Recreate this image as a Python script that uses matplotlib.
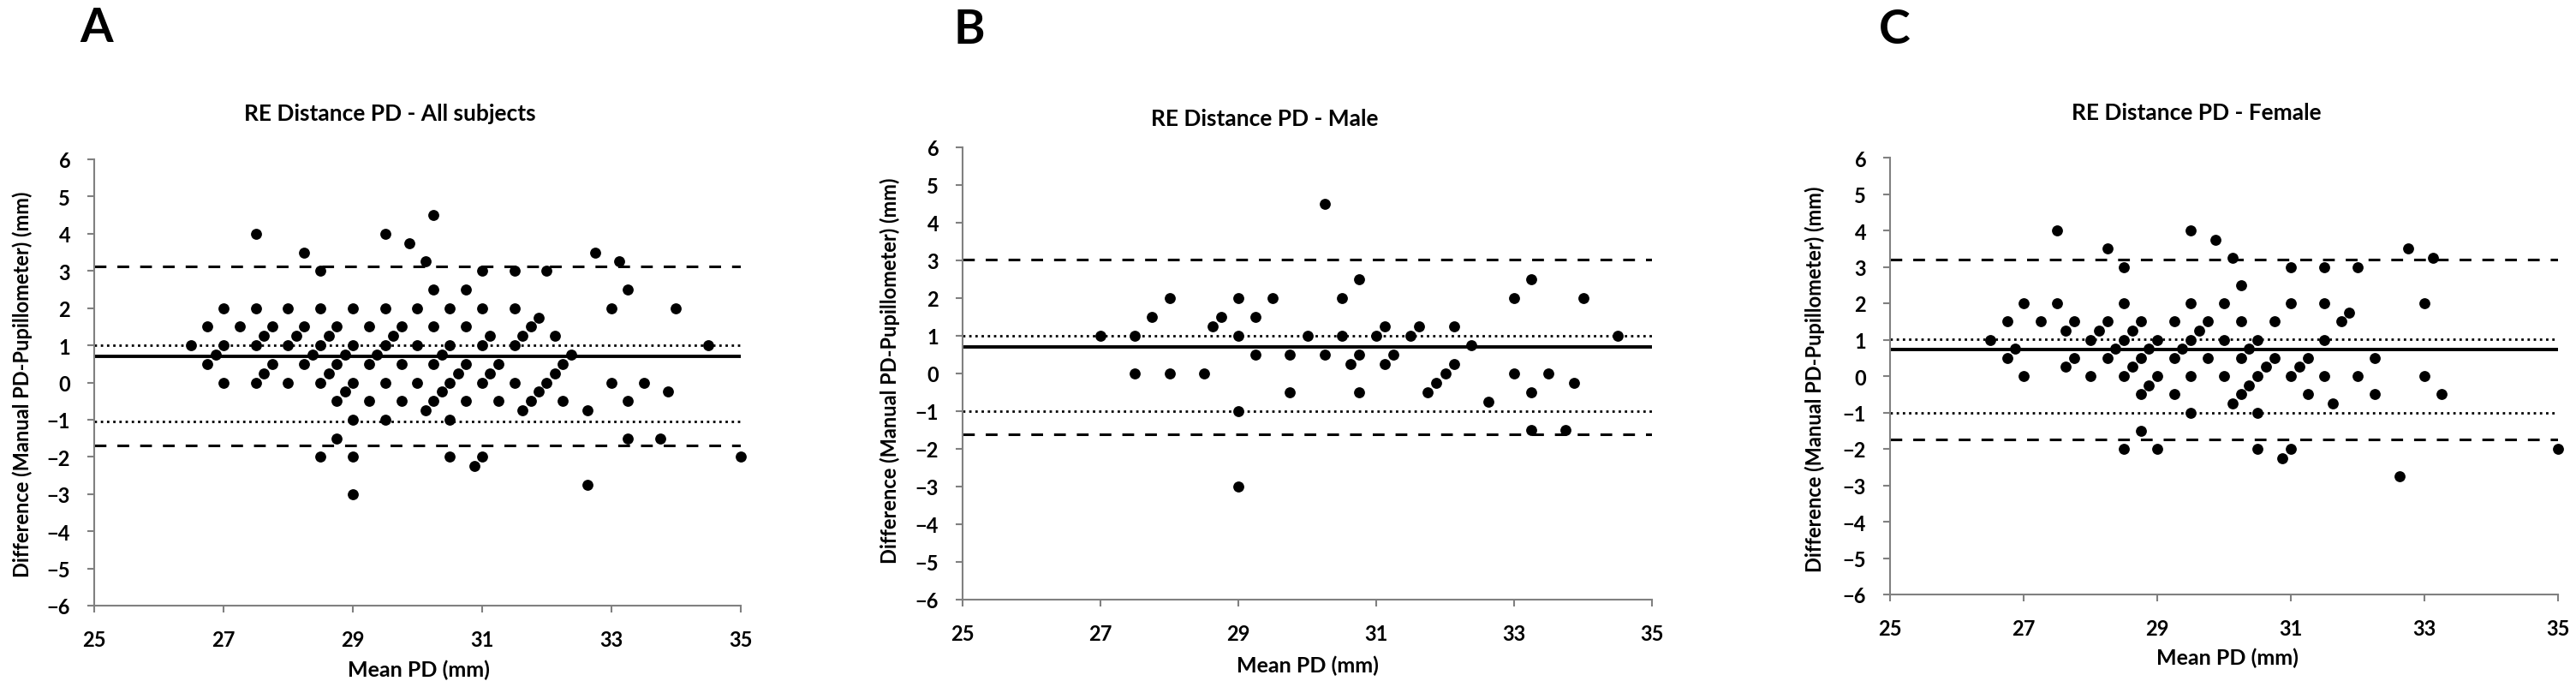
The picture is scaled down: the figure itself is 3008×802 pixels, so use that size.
import numpy as np
import matplotlib
matplotlib.use("Agg")
import matplotlib.pyplot as plt

plt.rcParams['font.family'] = ['Lato', 'DejaVu Sans']
plt.rcParams['font.weight'] = 'bold'

# panel A - all subjects
a_mean = [26.5, 26.75, 26.75, 26.875, 27, 27, 27, 27.25, 27.5, 27.5, 27.5, 27.5,
          27.625, 27.625, 27.75, 27.75, 28, 28, 28, 28.125, 28.25, 28.25, 28.25,
          28.375, 28.5, 28.5, 28.5, 28.5, 28.5, 28.625, 28.625, 28.75, 28.75, 28.75,
          28.75, 28.875, 28.875, 29, 29, 29, 29, 29, 29, 29.25, 29.25, 29.25, 29.375,
          29.5, 29.5, 29.5, 29.5, 29.5, 29.625, 29.75, 29.75, 29.75, 29.875, 30, 30,
          30, 30.125, 30.125, 30.25, 30.25, 30.25, 30.25, 30.25, 30.375, 30.375,
          30.5, 30.5, 30.5, 30.5, 30.5, 30.625, 30.75, 30.75, 30.75, 30.75, 30.875,
          31, 31, 31, 31, 31, 31.125, 31.125, 31.25, 31.25, 31.5, 31.5, 31.5, 31.5,
          31.625, 31.625, 31.75, 31.75, 31.875, 31.875, 32, 32, 32.125, 32.125,
          32.25, 32.25, 32.375, 32.625, 32.625, 32.75, 33, 33, 33.125, 33.25, 33.25,
          33.25, 33.5, 33.75, 33.875, 34, 34.5, 35]
a_diff = [1, 1.5, 0.5, 0.75, 2, 1, 0, 1.5, 4, 2, 1, 0,
          1.25, 0.25, 1.5, 0.5, 2, 1, 0, 1.25, 3.5, 1.5, 0.5,
          0.75, 3, 2, 1, 0, -2, 1.25, 0.25, 1.5, 0.5, -0.5,
          -1.5, 0.75, -0.25, 2, 1, 0, -1, -2, -3, 1.5, 0.5, -0.5, 0.75,
          4, 2, 1, 0, -1, 1.25, 1.5, 0.5, -0.5, 3.75, 2, 1,
          0, 3.25, -0.75, 4.5, 2.5, 1.5, 0.5, -0.5, 0.75, -0.25,
          2, 1, 0, -1, -2, 0.25, 2.5, 1.5, 0.5, -0.5, -2.25,
          3, 2, 1, 0, -2, 1.25, 0.25, 0.5, -0.5, 3, 2, 1, 0,
          1.25, -0.75, 1.5, -0.5, 1.75, -0.25, 3, 0, 1.25, 0.25,
          0.5, -0.5, 0.75, -0.75, -2.75, 3.5, 2, 0, 3.25, 2.5, -0.5,
          -1.5, 0, -1.5, -0.25, 2, 1, -2]
a_bias = 0.7
a_limits = [1.0, -1.05]
a_loa = [3.13, -1.7]

# panel B - male
b_mean = [27, 27.5, 27.5, 27.75, 28, 28, 28.5, 28.625, 28.75, 29, 29, 29, 29,
          29.25, 29.25, 29.5, 29.75, 29.75, 30, 30.25, 30.25, 30.5, 30.5, 30.625,
          30.75, 30.75, 30.75, 31, 31.125, 31.125, 31.25, 31.5, 31.625, 31.75,
          31.875, 32, 32.125, 32.125, 32.375, 32.625, 33, 33, 33.25, 33.25, 33.25,
          33.5, 33.75, 33.875, 34, 34.5]
b_diff = [1, 1, 0, 1.5, 2, 0, 0, 1.25, 1.5, 2, 1, -1, -3,
          1.5, 0.5, 2, 0.5, -0.5, 1, 4.5, 0.5, 2, 1, 0.25,
          2.5, 0.5, -0.5, 1, 1.25, 0.25, 0.5, 1, 1.25, -0.5,
          -0.25, 0, 1.25, 0.25, 0.75, -0.75, 2, 0, 2.5, -0.5, -1.5,
          0, -1.5, -0.25, 2, 1]
b_bias = 0.7
b_limits = [1.0, -1.0]
b_loa = [3.03, -1.62]

# panel C - female
c_mean = [26.5, 26.75, 26.75, 26.875, 27, 27, 27.25, 27.5, 27.5, 27.625, 27.625,
          27.75, 27.75, 28, 28, 28.125, 28.25, 28.25, 28.25, 28.375, 28.5, 28.5,
          28.5, 28.5, 28.5, 28.625, 28.625, 28.75, 28.75, 28.75, 28.75, 28.875,
          28.875, 29, 29, 29, 29.25, 29.25, 29.25, 29.375, 29.5, 29.5, 29.5, 29.5,
          29.5, 29.625, 29.75, 29.75, 29.875, 30, 30, 30, 30.125, 30.125, 30.25,
          30.25, 30.25, 30.25, 30.375, 30.375, 30.5, 30.5, 30.5, 30.5, 30.625,
          30.75, 30.75, 30.875, 31, 31, 31, 31, 31.125, 31.25, 31.25, 31.5, 31.5,
          31.5, 31.5, 31.625, 31.75, 31.875, 32, 32, 32.25, 32.25, 32.625, 32.75,
          33, 33, 33.125, 33.25, 35]
c_diff = [1, 1.5, 0.5, 0.75, 2, 0, 1.5, 4, 2, 1.25, 0.25,
          1.5, 0.5, 1, 0, 1.25, 3.5, 1.5, 0.5, 0.75, 3, 2,
          1, 0, -2, 1.25, 0.25, 1.5, 0.5, -0.5, -1.5, 0.75,
          -0.25, 1, 0, -2, 1.5, 0.5, -0.5, 0.75, 4, 2, 1, 0,
          -1, 1.25, 1.5, 0.5, 3.75, 2, 1, 0, 3.25, -0.75, 2.5,
          1.5, 0.5, -0.5, 0.75, -0.25, 1, 0, -1, -2, 0.25,
          1.5, 0.5, -2.25, 3, 2, 0, -2, 0.25, 0.5, -0.5, 3, 2,
          1, 0, -0.75, 1.5, 1.75, 3, 0, 0.5, -0.5, -2.75, 3.5,
          2, 0, 3.25, -0.5, -2]
c_bias = 0.72
c_limits = [1.02, -1.0]
c_loa = [3.2, -1.73]

W, H = 3008, 803
fig = plt.figure(figsize=(W / 100, H / 100), dpi=100)


def px_axes(left, right, top, bottom):
    return fig.add_axes([left / W, 1 - bottom / H, (right - left) / W, (bottom - top) / H])


def draw_panel(ax, mean, diff, bias, limits, loa):
    ax.set_xlim(25, 35)
    ax.set_ylim(-6, 6)
    for v in loa:
        ax.axhline(v, color='black', lw=2.2, linestyle=(0, (4.5, 4.2)))
    for v in limits:
        ax.axhline(v, color='black', lw=2.0, linestyle=(0, (1, 1.6)))
    ax.axhline(bias, color='black', lw=2.8)
    ax.scatter(mean, diff, s=85, color='black', zorder=5, clip_on=False, linewidths=0)
    ax.set_xticks(np.arange(25, 36, 2))
    ax.set_yticks(np.arange(-6, 7, 1))
    for side in ['top', 'right']:
        ax.spines[side].set_visible(False)
    for side in ['left', 'bottom']:
        ax.spines[side].set_color('#808080')
        ax.spines[side].set_linewidth(1.5)
    ax.tick_params(axis='both', colors='#808080', width=1.5, length=6,
                   labelcolor='black', labelsize=17, pad=14)


axes = [
    px_axes(110, 865, 187, 708),
    px_axes(1124, 1929, 173, 701),
    px_axes(2207, 2987, 185, 695),
]
panels = [
    (a_mean, a_diff, a_bias, a_limits, a_loa),
    (b_mean, b_diff, b_bias, b_limits, b_loa),
    (c_mean, c_diff, c_bias, c_limits, c_loa),
]
for ax, p in zip(axes, panels):
    draw_panel(ax, *p)

titles = ['RE Distance PD - All subjects', 'RE Distance PD - Male', 'RE Distance PD - Female']
title_pos = [(455, 133), (1477, 139), (2565, 132)]
for t, (x, y) in zip(titles, title_pos):
    fig.text(x / W, 1 - y / H, t, ha='center', va='center', fontsize=19, fontweight='bold')

letters = ['A', 'B', 'C']
letter_pos = [(93, 33), (1113, 35), (2194, 35)]
for t, (x, y) in zip(letters, letter_pos):
    fig.text(x / W, 1 - y / H, t, ha='left', va='center', fontsize=40, fontweight='bold')

ylab_pos = [(26, 449), (1039, 433), (2119, 443)]
for x, y in ylab_pos:
    fig.text(x / W, 1 - y / H, 'Difference (Manual PD-Pupillometer) (mm)', rotation=90,
             ha='center', va='center', fontsize=17, fontweight='bold')

xlab_pos = [(489, 782), (1527, 777), (2601, 768)]
for x, y in xlab_pos:
    fig.text(x / W, 1 - y / H, 'Mean PD (mm)', ha='center', va='center',
             fontsize=18, fontweight='bold')

fig.savefig('out.png', dpi=100)
